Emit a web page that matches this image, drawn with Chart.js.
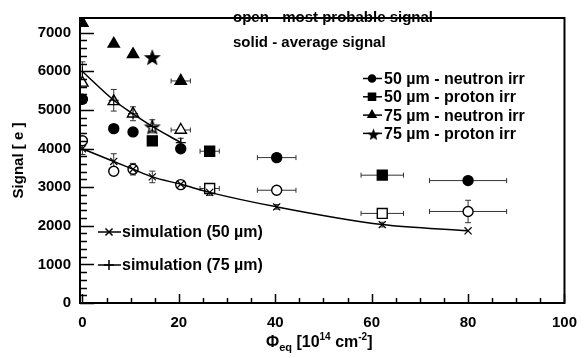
<html><head>
<meta charset="UTF-8">
<title>Signal vs fluence</title>
<style>
  body { margin: 0; background: #fff; }
  #plot { display: block; }
</style>
<script src="https://cdn.jsdelivr.net/npm/chart.js"></script>
</head>
<body>
<canvas id="plot" width="588" height="358"></canvas>
<script>
// 50 um sensors, neutron irradiated
const n50Fluence = [0, 6.5, 10.5, 20.4, 40.3, 80];
const n50FluenceErr = [0, 0, 0, 0, 4, 8];
const n50Avg = [5275, 4515, 4430, 3995, 3765, 3170];
const n50Mpv = [4200, 3410, 3465, 3065, 2920, 2370];
const n50MpvErr = [0, 0, 0, 0, 0, 290];

// 50 um sensors, proton irradiated
const p50AvgFluence = [14.5, 26.4, 62.2];
const p50AvgFluenceErr = [0, 2, 4.4];
const p50Avg = [4200, 3930, 3310];
const p50MpvFluence = [26.4, 62.2];
const p50MpvFluenceErr = [2, 4.4];
const p50Mpv = [2965, 2320];

// 75 um sensors, neutron irradiated
const n75Fluence = [0, 6.5, 10.5, 20.4];
const n75FluenceErr = [0, 0, 0, 2];
const n75Avg = [7250, 6710, 6440, 5750];
const n75Mpv = [5700, 5220, 4900, 4480];

// 75 um sensors, proton irradiated
const p75Fluence = [14.5];
const p75Avg = [6370];
const p75Mpv = [4575];

// simulations
const sim50Fluence = [0, 6.5, 10.5, 14.5, 20.4, 26.4, 40.3, 62.2, 80];
const sim50Signal = [3995, 3665, 3465, 3265, 3075, 2865, 2490, 2030, 1870];
const sim50Err = [150, 200, 150, 150, 100, 80, 60, 60, 0];
const sim75Fluence = [0, 6.5, 10.5, 14.5, 20.4];
const sim75Signal = [5995, 5250, 4900, 4575, 4155];
const sim75Err = [250, 280, 180, 170, 110];

const fluenceTicks = [0, 20, 40, 60, 80, 100];
const signalTicks = [0, 1000, 2000, 3000, 4000, 5000, 6000, 7000];

const noteLines = ['open - most probable signal', 'solid - average signal'];
const sampleLabels = ['50 \u00b5m - neutron irr', '50 \u00b5m - proton irr', '75 \u00b5m - neutron irr', '75 \u00b5m - proton irr'];
const simLabels = ['simulation (50 \u00b5m)', 'simulation (75 \u00b5m)'];

const FONT = '"Liberation Sans", Arial, sans-serif';

function pts(xs, ys, exs, eys) {
  return xs.map((x, i) => ({ x: x, y: ys[i], ex: exs ? exs[i] : 0, ey: eys ? eys[i] : 0 }));
}

// five pointed star, used as a point style
function starImage(filled, r) {
  const c = document.createElement('canvas');
  const s = Math.ceil(r * 2 + 4);
  c.width = c.height = s;
  const g = c.getContext('2d');
  g.beginPath();
  for (let i = 0; i < 10; i++) {
    const rad = i % 2 ? r * 0.42 : r;
    const a = -Math.PI / 2 + i * Math.PI / 5;
    g.lineTo(s / 2 + rad * Math.cos(a), s / 2 + 1 + rad * Math.sin(a));
  }
  g.closePath();
  g.fillStyle = filled ? '#000' : '#fff';
  g.fill();
  g.lineWidth = 1.4;
  g.strokeStyle = '#000';
  g.stroke();
  return c;
}
const starFull = starImage(true, 7);
const starOpen = starImage(false, 7);

function markers(label, data, style, filled, radius) {
  return {
    label: label,
    data: data,
    pointStyle: style,
    pointRadius: radius,
    pointBackgroundColor: filled ? '#000' : '#fff',
    pointBorderColor: '#000',
    pointBorderWidth: 1.4,
    showLine: false
  };
}

function simCurve(label, data, style) {
  return {
    label: label,
    data: data,
    pointStyle: style,
    pointRadius: 5,
    pointBorderColor: '#000',
    pointBackgroundColor: '#000',
    pointBorderWidth: 1.2,
    borderColor: '#000',
    borderWidth: 1.5,
    showLine: true,
    cubicInterpolationMode: 'monotone'
  };
}

// error bars drawn under the markers
const errorBars = {
  id: 'errorBars',
  beforeDatasetsDraw(chart) {
    const { ctx, scales: { x, y } } = chart;
    ctx.save();
    ctx.strokeStyle = '#333';
    ctx.lineWidth = 1;
    chart.data.datasets.forEach(ds => {
      ds.data.forEach(p => {
        const px = x.getPixelForValue(p.x);
        const py = y.getPixelForValue(p.y);
        ctx.beginPath();
        if (p.ex) {
          const a = x.getPixelForValue(p.x - p.ex), b = x.getPixelForValue(p.x + p.ex);
          ctx.moveTo(a, py); ctx.lineTo(b, py);
          ctx.moveTo(a, py - 2.5); ctx.lineTo(a, py + 2.5);
          ctx.moveTo(b, py - 2.5); ctx.lineTo(b, py + 2.5);
        }
        if (p.ey) {
          const a = y.getPixelForValue(p.y - p.ey), b = y.getPixelForValue(p.y + p.ey);
          ctx.moveTo(px, a); ctx.lineTo(px, b);
          ctx.moveTo(px - 3, a); ctx.lineTo(px + 3, a);
          ctx.moveTo(px - 3, b); ctx.lineTo(px + 3, b);
        }
        ctx.stroke();
      });
    });
    ctx.restore();
  }
};

// frame, inward ticks, x title and the in-plot legends
const decorations = {
  id: 'decorations',
  afterDraw(chart) {
    const { ctx, chartArea: a, scales: { x, y } } = chart;
    ctx.save();
    ctx.strokeStyle = '#000';
    ctx.lineWidth = 1.5;
    ctx.beginPath();
    for (let v = 0; v <= 7300; v += 200) {
      const py = Math.round(y.getPixelForValue(v)) + 0.5;
      ctx.moveTo(a.left, py);
      ctx.lineTo(a.left + (v % 1000 === 0 ? 14 : 7), py);
    }
    for (let v = 0; v <= 100; v += 5) {
      const px = Math.round(x.getPixelForValue(v)) + 0.5;
      ctx.moveTo(px, a.bottom);
      ctx.lineTo(px, a.bottom - (v % 20 === 0 ? 9 : 5));
    }
    ctx.stroke();
    ctx.lineWidth = 2;
    ctx.strokeRect(a.left, a.top, a.right - a.left, a.bottom - a.top);

    // x axis title: Phi_eq [10^14 cm^-2]
    ctx.fillStyle = '#000';
    ctx.textBaseline = 'alphabetic';
    const parts = [
      ['\u03a6', 16, 0], ['eq', 11, 4], [' [10', 16, 0], ['14', 10, -7], [' cm', 16, 0], ['-2', 10, -7], [']', 16, 0]
    ];
    let w = 0;
    parts.forEach(p => { ctx.font = 'bold ' + p[1] + 'px ' + FONT; w += ctx.measureText(p[0]).width; });
    let cx = (a.left + a.right) / 2 - w / 2 - 3;
    const base = 347;
    parts.forEach(p => {
      ctx.font = 'bold ' + p[1] + 'px ' + FONT;
      ctx.fillText(p[0], cx, base + p[2]);
      cx += ctx.measureText(p[0]).width;
    });

    // notes
    ctx.font = 'bold 15px ' + FONT;
    ctx.textBaseline = 'middle';
    ctx.fillText(noteLines[0], 233, 18);
    ctx.fillText(noteLines[1], 233, 43);

    // sample legend
    ctx.font = 'bold 16px ' + FONT;
    const styles = [
      { pointStyle: 'circle', radius: 3.5 },
      { pointStyle: 'rect', radius: 5 },
      { pointStyle: 'triangle', radius: 4.5 }
    ];
    sampleLabels.forEach((t, i) => {
      const ly = 78.5 + i * 18.3;
      ctx.beginPath();
      ctx.lineWidth = 1.5;
      ctx.moveTo(363, ly); ctx.lineTo(382, ly);
      ctx.stroke();
      if (i === 3) {
        ctx.drawImage(starImage(true, 4.5), 367, ly - 6);
      } else {
        Chart.helpers.drawPoint(ctx, { pointStyle: styles[i].pointStyle, radius: styles[i].radius, borderWidth: 1 }, 372, ly);
        ctx.fill();
      }
      ctx.fillText(t, 384, ly + 1);
    });

    // simulation legend
    ctx.font = 'bold 16px ' + FONT;
    simLabels.forEach((t, i) => {
      const ly = 232 + i * 33;
      ctx.beginPath();
      ctx.lineWidth = 1.5;
      ctx.moveTo(98, ly); ctx.lineTo(121, ly);
      ctx.stroke();
      Chart.helpers.drawPoint(ctx, { pointStyle: i === 0 ? 'crossRot' : 'cross', radius: 5, borderWidth: 1.2 }, 109, ly);
      ctx.fillText(t, 122, ly + 1);
    });
    ctx.restore();
  }
};

new Chart(document.getElementById('plot'), {
  type: 'scatter',
  data: {
    datasets: [
      simCurve('sim50', pts(sim50Fluence, sim50Signal, null, sim50Err), 'crossRot'),
      simCurve('sim75', pts(sim75Fluence, sim75Signal, null, sim75Err), 'cross'),
      markers('n50avg', pts(n50Fluence, n50Avg, n50FluenceErr), 'circle', true, 5),
      markers('n50mpv', pts(n50Fluence, n50Mpv, n50FluenceErr, n50MpvErr), 'circle', false, 5),
      markers('p50avg', pts(p50AvgFluence, p50Avg, p50AvgFluenceErr), 'rect', true, 7),
      markers('p50mpv', pts(p50MpvFluence, p50Mpv, p50MpvFluenceErr), 'rect', false, 7),
      markers('n75avg', pts(n75Fluence, n75Avg, n75FluenceErr), 'triangle', true, 6.5),
      markers('n75mpv', pts(n75Fluence, n75Mpv, n75FluenceErr), 'triangle', false, 6.5),
      markers('p75avg', pts(p75Fluence, p75Avg), starFull, true, 7),
      markers('p75mpv', pts(p75Fluence, p75Mpv), starOpen, false, 7)
    ]
  },
  options: {
    responsive: false,
    animation: false,
    layout: { padding: { top: 5, right: 23, left: 0, bottom: 0 } },
    plugins: { legend: { display: false }, tooltip: { enabled: false } },
    scales: {
      x: {
        type: 'linear',
        min: -0.5,
        max: 100,
        grid: { display: false, drawTicks: false },
        border: { display: false },
        afterBuildTicks(scale) { scale.ticks = fluenceTicks.map(v => ({ value: v })); },
        ticks: { padding: 11, color: '#000', font: { family: FONT, size: 15, weight: 'bold' } },
        afterFit(scale) { scale.height = 55; }
      },
      y: {
        type: 'linear',
        min: 0,
        max: 7380,
        grid: { display: false, drawTicks: false },
        border: { display: false },
        afterBuildTicks(scale) { scale.ticks = signalTicks.map(v => ({ value: v })); },
        ticks: { padding: 9, color: '#000', callback: v => v, font: { family: FONT, size: 15, weight: 'bold' } },
        title: { display: true, text: 'Signal [ e ]', color: '#000', padding: { top: 10, bottom: 0 }, font: { family: FONT, size: 15, weight: 'bold' } },
        afterFit(scale) { scale.width = 80; }
      }
    }
  },
  plugins: [errorBars, decorations]
});
</script>
</body></html>
